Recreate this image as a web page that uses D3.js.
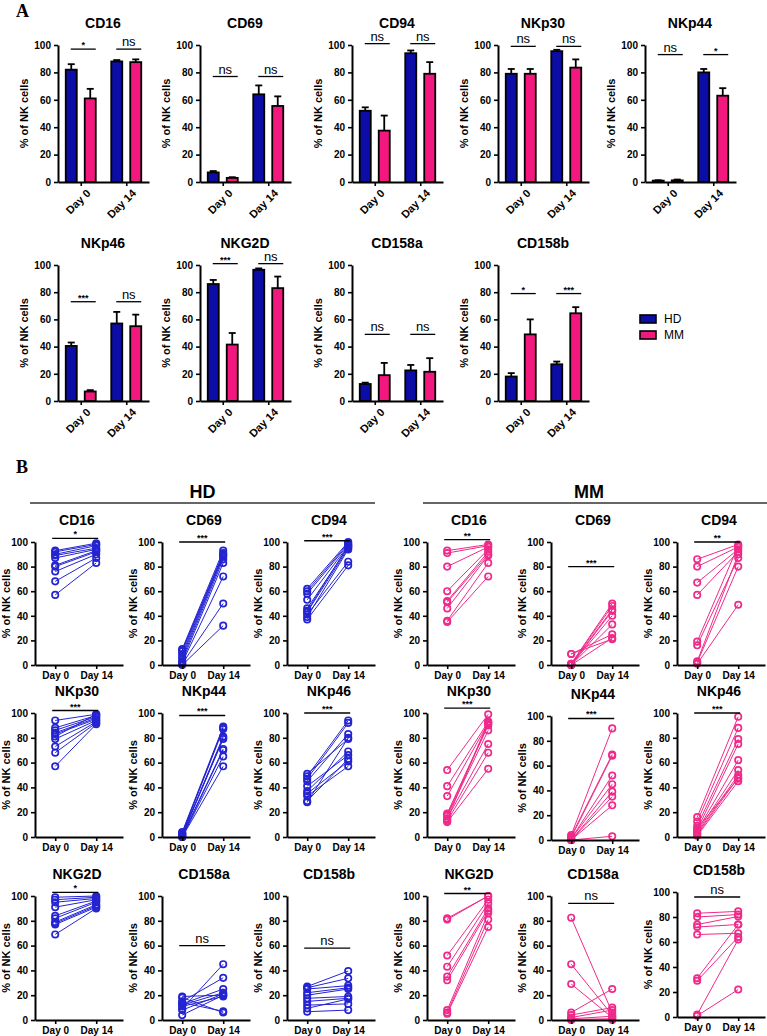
<!DOCTYPE html>
<html>
<head>
<meta charset="utf-8">
<title>NK cell receptors</title>
<script src="https://d3js.org/d3.v7.min.js"></script>
<style>
  body { margin: 0; background: #fff; font-family: "Liberation Sans", Arial, sans-serif; }
  .tick text { font-weight: bold; font-size: 10px; font-family: "Liberation Sans", Arial, sans-serif; }
</style>
</head>
<body>
<svg id="fig" width="767" height="1036"></svg>
<script>
// ---------------- data ----------------
const days = ["Day 0", "Day 14"];
const groups = ["HD", "MM"];
const markers = ["CD16", "CD69", "CD94", "NKp30", "NKp44", "NKp46", "NKG2D", "CD158a", "CD158b"];
const yTicks = [0, 20, 40, 60, 80, 100];

// panel A: mean [Day 0, Day 14] and top of error bar
const hdMean = [[82, 88], [7, 64], [52, 94], [79, 95.5], [1, 80], [40.5, 57], [86, 96.5], [12.5, 22.5], [18, 27]];
const hdErr  = [[86, 89], [8, 70.5], [54.5, 96], [82.5, 96.5], [1.3, 82.5], [43, 65.5], [89, 97.5], [13.5, 26.5], [20.5, 29]];
const mmMean = [[61, 87.5], [3, 55.5], [37.5, 79], [79, 83.5], [1.2, 63], [7, 55], [41.5, 83], [19, 21.5], [49, 64.5]];
const mmErr  = [[68, 89.5], [3.5, 62.5], [48.5, 87.5], [82.5, 89.5], [1.8, 68.5], [8, 63.5], [50, 91.5], [28, 31.5], [60, 69]];
const sigA      = [["*", "ns"], ["ns", "ns"], ["ns", "ns"], ["ns", "ns"], ["ns", "*"], ["***", "ns"], ["***", "ns"], ["ns", "ns"], ["*", "***"]];
const sigLevelA = [97, 77, 101, 99, 93, 73, 101, 49, 79];

// panel B: paired donors, Day 0 and Day 14
const hdDay0 = [
  [93, 92, 90, 89, 87, 81, 80, 76, 68, 57],
  [13, 12, 11, 9, 7, 5, 3, 2, 1, 0],
  [62, 60, 58, 53, 46, 44, 43, 41, 39, 37],
  [94, 88, 86, 84, 83, 81, 79, 73, 68, 57],
  [4, 3, 3, 2, 2, 1, 1, 0, 0, 0],
  [51, 49, 47, 45, 41, 37, 35, 33, 29, 28],
  [99, 97, 95, 91, 84, 82, 79, 78, 77, 69],
  [19, 18, 15, 14, 13, 12, 11, 9, 8, 4],
  [27, 26, 25, 22, 20, 17.5, 15, 12, 9.4, 6.7]
];
const hdDay14 = [
  [99, 98, 97, 95, 94, 93, 92, 90, 87, 83],
  [93, 91, 90, 89, 88, 86, 83, 72, 50, 32],
  [100, 99, 98, 97, 96, 97, 95, 84, 94, 81],
  [99, 98, 97, 96, 95, 99, 94, 93, 92, 91],
  [89, 88, 87, 81, 79, 80, 71, 70, 65, 57],
  [79, 94, 92, 83, 66, 69, 61, 57, 63, 80],
  [100, 99, 98, 97, 96, 95, 93, 92, 91, 90],
  [20, 6, 34, 7, 25, 22, 19, 45, 21, 20],
  [39.5, 33.6, 27.7, 26, 25, 19, 17.5, 13, 17, 8]
];
const mmDay0 = [
  [93, 91, 80, 60, 52, 51, 46, 36, 35],
  [9, 9, 1, 1, 0.5, 0, 0, 0, 0],
  [86, 80, 67, 57, 19, 16, 3, 2, 1],
  [54, 41, 33, 19, 18, 17, 15, 14, 13, 12],
  [4, 3, 2, 1, 1, 0, 0, 0, 0],
  [16, 12.5, 9, 6, 5, 4, 3, 2, 1, 7],
  [82, 81, 52, 43, 35, 32, 8, 6, 5],
  [82.5, 45, 29, 6, 4, 2, 1, 0.5, 0],
  [83, 80, 74, 72, 66, 31, 29, 2, 1]
];
const mmDay14 = [
  [98, 97, 96, 94, 92, 90, 89, 83, 72],
  [21, 25, 50, 48, 45, 44, 40, 33, 22],
  [98, 96, 94, 92, 97, 87, 90, 80, 49],
  [99, 93, 92, 91, 90, 86, 75, 93, 68, 55],
  [90, 69, 68, 52, 45, 39, 35, 28, 3],
  [97, 88, 79, 75, 62, 54, 50, 48, 45, 47],
  [100, 100, 97, 94, 90, 88, 86, 81, 75],
  [6, 4, 2, 25, 10, 8, 3, 1, 0],
  [84.5, 82, 80.4, 74, 67, 74, 64, 62, 22]
];
const sigHD      = ["*", "***", "***", "***", "***", "***", "*", "ns", "ns"];
const sigLevelHD = [103, 100, 101, 102, 98, 100, 103, 60, 58];
const sigMM      = ["**", "***", "**", "***", "***", "***", "**", "ns", "ns"];
const sigLevelMM = [102, 80, 100, 104, 98, 100, 102, 94, 96];

// ---------------- styles ----------------
const colA = { HD: "#0c0ca6", MM: "#f2187e" };
const colB = { HD: "#2424d2", MM: "#f02a8a" };
const FONT = '"Liberation Sans", Arial, sans-serif';

const svg = d3.select("#fig");

function styleAxis(g) {
  g.select(".domain").attr("stroke", "#000").attr("stroke-width", 2);
  g.selectAll(".tick line").attr("stroke", "#000").attr("stroke-width", 1.6);
}

function sigMark(g, x1, x2, y, label) {
  g.append("line").attr("x1", x1).attr("x2", x2).attr("y1", y).attr("y2", y)
    .attr("stroke", "#000").attr("stroke-width", 1.3);
  const ns = label === "ns";
  g.append("text").attr("x", (x1 + x2) / 2).attr("y", ns ? y - 3 : y - 1)
    .attr("text-anchor", "middle")
    .style("font-family", FONT)
    .style("font-size", ns ? "13px" : "9px")
    .style("font-weight", ns ? "normal" : "bold")
    .text(label);
}

function yTitle(g, x, yMid) {
  g.append("text").attr("transform", `translate(${x},${yMid}) rotate(-90)`)
    .attr("text-anchor", "middle").style("font-family", FONT)
    .style("font-size", "11px").style("font-weight", "bold")
    .text("% of NK cells");
}

// ---------------- panel A ----------------
svg.append("text").attr("x", 16).attr("y", 17).style("font-family", '"Liberation Serif", serif')
  .style("font-size", "18px").style("font-weight", "bold").text("A");

const aPos = [
  [58, 45, 182], [200, 45, 182], [352, 45, 182], [498, 45, 182], [645, 45, 182],
  [58, 265, 401], [200, 265, 401], [352, 265, 401], [498, 265, 401]
];

const xDayA = d3.scalePoint().domain(days).range([0, 91]).padding(0.5);
const xGrpA = d3.scaleBand().domain(groups).range([-15, 15]).paddingInner(0.42);

markers.forEach((m, i) => {
  const [ax, top, bot] = aPos[i];
  const g = svg.append("g").attr("transform", `translate(${ax},0)`);
  const y = d3.scaleLinear().domain([0, 100]).range([bot, top]);

  g.append("text").attr("x", 45).attr("y", top - 17).attr("text-anchor", "middle")
    .style("font-family", FONT).style("font-size", "14px").style("font-weight", "bold").text(m);

  const means = { HD: hdMean[i], MM: mmMean[i] };
  const errs = { HD: hdErr[i], MM: mmErr[i] };

  days.forEach((d, j) => {
    groups.forEach(gr => {
      const bx = xDayA(d) + xGrpA(gr);
      const bw = xGrpA.bandwidth();
      const cx = bx + bw / 2;
      g.append("line").attr("x1", cx).attr("x2", cx)
        .attr("y1", y(means[gr][j])).attr("y2", y(errs[gr][j]))
        .attr("stroke", "#000").attr("stroke-width", 1.8);
      g.append("line").attr("x1", cx - 3.5).attr("x2", cx + 3.5)
        .attr("y1", y(errs[gr][j])).attr("y2", y(errs[gr][j]))
        .attr("stroke", "#000").attr("stroke-width", 1.8);
      g.append("rect").attr("x", bx).attr("y", y(means[gr][j]))
        .attr("width", bw).attr("height", Math.max(0, bot - y(means[gr][j])))
        .attr("fill", colA[gr]).attr("stroke", "#000").attr("stroke-width", 1.8);
    });
    const c = xDayA(d);
    sigMark(g, c - 10, c + 15, y(sigLevelA[i]), sigA[i][j]);
  });

  const ya = g.append("g").call(d3.axisLeft(y).tickValues(yTicks).tickSize(4).tickSizeOuter(0));
  styleAxis(ya);
  const xa = g.append("g").attr("transform", `translate(0,${bot})`)
    .call(d3.axisBottom(xDayA).tickSize(4).tickSizeOuter(0));
  styleAxis(xa);
  xa.selectAll(".tick text").attr("text-anchor", "end").style("font-size", "11px")
    .attr("transform", "translate(3,5) rotate(-45)").attr("dy", "0.35em").attr("y", 6).attr("x", 0);

  yTitle(g, -30, (top + bot) / 2);
});

// legend
const leg = svg.append("g").attr("transform", "translate(640,315)");
groups.forEach((gr, k) => {
  leg.append("rect").attr("x", 0).attr("y", k * 16).attr("width", 16).attr("height", 8)
    .attr("fill", colA[gr]).attr("stroke", "#000").attr("stroke-width", 1.6);
  leg.append("text").attr("x", 24).attr("y", k * 16 + 8).style("font-family", FONT)
    .style("font-size", "12px").text(gr);
});

// ---------------- panel B ----------------
svg.append("text").attr("x", 16).attr("y", 473).style("font-family", '"Liberation Serif", serif')
  .style("font-size", "18px").style("font-weight", "bold").text("B");

[["HD", 30, 375], ["MM", 423, 767]].forEach(([lab, x1, x2]) => {
  svg.append("text").attr("x", (x1 + x2) / 2 - (lab === "MM" ? 6 : 0)).attr("y", 498).attr("text-anchor", "middle")
    .style("font-family", FONT).style("font-size", "18px").style("font-weight", "bold").text(lab);
  svg.append("line").attr("x1", x1).attr("x2", x2).attr("y1", 503).attr("y2", 503)
    .attr("stroke", "#333").attr("stroke-width", 1.5);
});

const bCols = { HD: [35, 162, 287], MM: [427, 551, 677] };
const bRows = [[542, 665], [713, 837], [896, 1020]];
const bAdjust = { "MM-4": [3, 3], "MM-8": [-4, -3] };

const xDayB = d3.scalePoint().domain(days).range([0, 88]).padding(0.573).align(0.43);

function drawPairPanel(gr, i) {
  const col = i % 3, row = Math.floor(i / 3);
  const ax = bCols[gr][col];
  const adj = bAdjust[gr + "-" + i] || [0, 0];
  const top = bRows[row][0] + adj[0], bot = bRows[row][1] + adj[1];
  const y = d3.scaleLinear().domain([0, 100]).range([bot, top]);
  const g = svg.append("g").attr("transform", `translate(${ax},0)`);
  const d0 = gr === "HD" ? hdDay0[i] : mmDay0[i];
  const d14 = gr === "HD" ? hdDay14[i] : mmDay14[i];
  const c = colB[gr];

  g.append("text").attr("x", 42).attr("y", top - 17).attr("text-anchor", "middle")
    .style("font-family", FONT).style("font-size", "14px").style("font-weight", "bold").text(markers[i]);

  const pairs = d0.map((v, k) => [v, d14[k]]);
  g.selectAll("line.pair").data(pairs).enter().append("line").attr("class", "pair")
    .attr("x1", xDayB(days[0])).attr("x2", xDayB(days[1]))
    .attr("y1", p => y(p[0])).attr("y2", p => y(p[1]))
    .attr("stroke", c).attr("stroke-width", 1);
  days.forEach((d, j) => {
    g.selectAll(null).data(pairs).enter().append("circle")
      .attr("cx", xDayB(d)).attr("cy", p => y(p[j])).attr("r", 3.2)
      .attr("fill", "none").attr("stroke", c).attr("stroke-width", 1.7);
  });

  const lab = gr === "HD" ? sigHD[i] : sigMM[i];
  const lev = gr === "HD" ? sigLevelHD[i] : sigLevelMM[i];
  sigMark(g, xDayB(days[0]) - 3, xDayB(days[1]) + 2, y(lev), lab);

  const ya = g.append("g").call(d3.axisLeft(y).tickValues(yTicks).tickSize(4).tickSizeOuter(0));
  styleAxis(ya);
  const xa = g.append("g").attr("transform", `translate(0,${bot})`)
    .call(d3.axisBottom(xDayB).tickSize(4).tickSizeOuter(0));
  styleAxis(xa);

  yTitle(g, -25, (top + bot) / 2);
}

markers.forEach((m, i) => { drawPairPanel("HD", i); drawPairPanel("MM", i); });
</script>
</body>
</html>
